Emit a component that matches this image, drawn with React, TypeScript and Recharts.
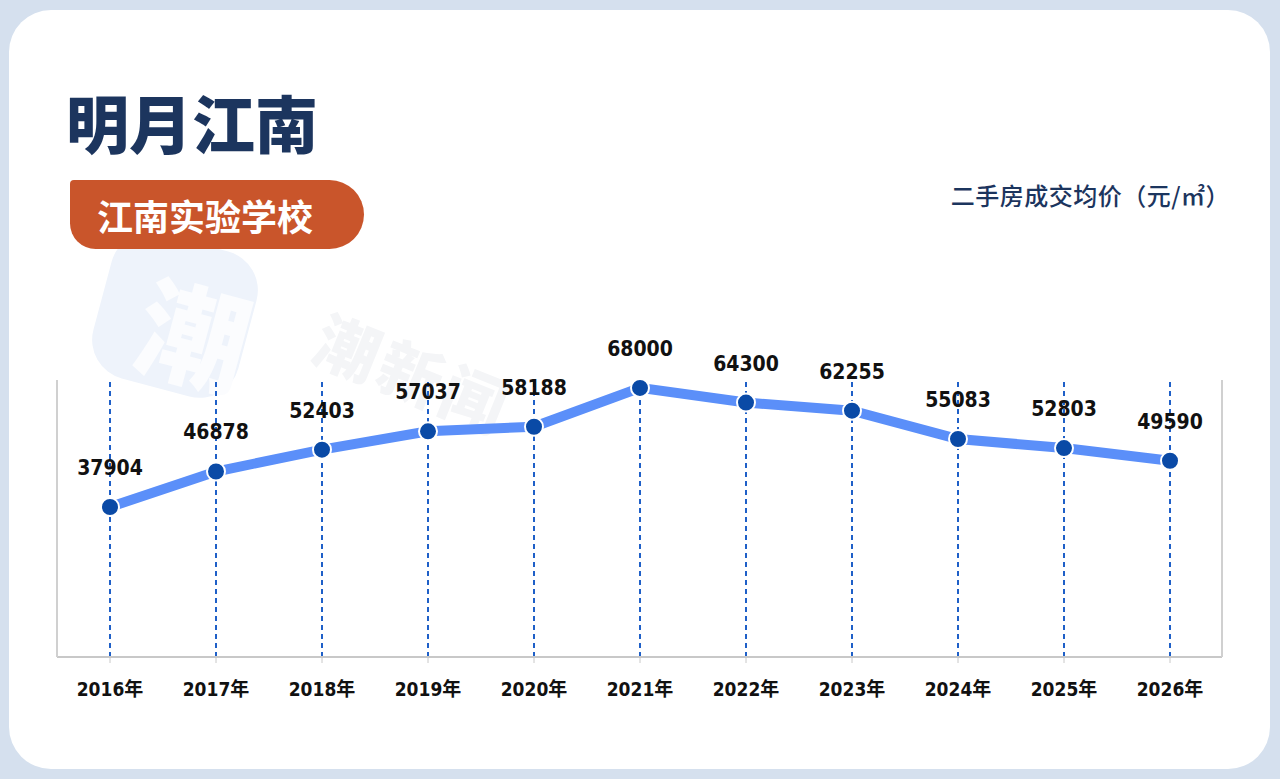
import React from "react"
import { LineChart, Line, XAxis, YAxis, ReferenceLine, LabelList } from "recharts"

const years = ["2016年", "2017年", "2018年", "2019年", "2020年", "2021年", "2022年", "2023年", "2024年", "2025年", "2026年"]
const prices = [37904, 46878, 52403, 57037, 58188, 68000, 64300, 62255, 55083, 52803, 49590]

const title = "明月江南"
const badge = "江南实验学校"
const unitLabel = "二手房成交均价（元/㎡）"

const data = years.map((year, i) => ({ year, price: prices[i] }))

const NAVY = "#1c355e"
const numFont = "'DejaVu Sans Condensed', 'Noto Sans CJK SC', sans-serif"

export default function App() {
    return (
        <div style={{ position: "fixed", top: 0, left: 0, width: 1280, height: 779, background: "#d5e0ee", overflow: "hidden" }}>
            <div style={{ position: "absolute", left: 9, top: 10, width: 1261, height: 759, background: "#fff", borderRadius: 42 }} />

            {/* faint watermark */}
            <div style={{ position: "absolute", left: 100, top: 240, width: 150, height: 150, borderRadius: 40, background: "#eef3fb", transform: "rotate(15deg)" }} />
            <div style={{ position: "absolute", left: 140, top: 250, fontSize: 110, fontWeight: 900, color: "#fbfcfe", fontFamily: "'Noto Sans CJK SC'", transform: "rotate(15deg)" }}>潮</div>
            <div style={{ position: "absolute", left: 312, top: 325, fontSize: 64, fontWeight: 900, color: "#f4f5f7", fontFamily: "'Noto Sans CJK SC'", transform: "rotate(22deg)", letterSpacing: 4 }}>潮新闻</div>

            <div style={{ position: "absolute", left: 66, top: 89, fontSize: 63, fontWeight: 900, color: NAVY, fontFamily: "'Noto Sans CJK SC'", lineHeight: 1 }}>
                {title}
            </div>

            <div style={{
                position: "absolute", left: 70, top: 180, width: 294, height: 69, background: "#c9552b",
                borderRadius: "4px 35px 35px 26px", color: "#fff", fontSize: 36, fontWeight: 700,
                fontFamily: "'Noto Sans CJK SC'", display: "flex", alignItems: "center", paddingLeft: 27, boxSizing: "border-box",
            }}>
                {badge}
            </div>

            <div style={{ position: "absolute", right: 50, top: 179, fontSize: 24, fontWeight: 500, color: NAVY, fontFamily: "'Noto Sans CJK SC'", lineHeight: "32px", letterSpacing: 0.5 }}>
                {unitLabel}
            </div>

            <div style={{ position: "absolute", left: 0, top: 0 }}>
                <LineChart width={1280} height={779} data={data} margin={{ top: 380, right: 57, bottom: 62, left: 56 }}>
                    <XAxis
                        dataKey="year"
                        padding={{ left: 53, right: 52 }}
                        axisLine={{ stroke: "#c8c8c8", strokeWidth: 2 }}
                        tickLine={{ stroke: "#c8c8c8" }}
                        tickSize={6}
                        tickMargin={20}
                        tick={{ fill: "#111", fontSize: 19, fontWeight: 600, fontFamily: numFont }}
                        interval={0}
                        height={60}
                    />
                    <YAxis domain={[0, 70000]} width={1} tick={false} tickLine={false} axisLine={{ stroke: "#d0d0d0", strokeWidth: 2 }} />
                    <YAxis yAxisId="right" orientation="right" domain={[0, 70000]} width={1} tick={false} tickLine={false} axisLine={{ stroke: "#d0d0d0", strokeWidth: 2 }} />
                    {years.map((y) => (
                        <ReferenceLine key={y} x={y} stroke="#1f60c8" strokeWidth={2} strokeDasharray="5 4" />
                    ))}
                    <Line
                        dataKey="price"
                        type="linear"
                        stroke="#5b8ff9"
                        strokeWidth={10}
                        dot={{ r: 9, fill: "#0a4aa6", stroke: "#fff", strokeWidth: 2 }}
                        isAnimationActive={false}
                    >
                        <LabelList dataKey="price" position="top" offset={32} fill="#111" fontSize={21} fontWeight={700} fontFamily={numFont} />
                    </Line>
                </LineChart>
            </div>
        </div>
    )
}
